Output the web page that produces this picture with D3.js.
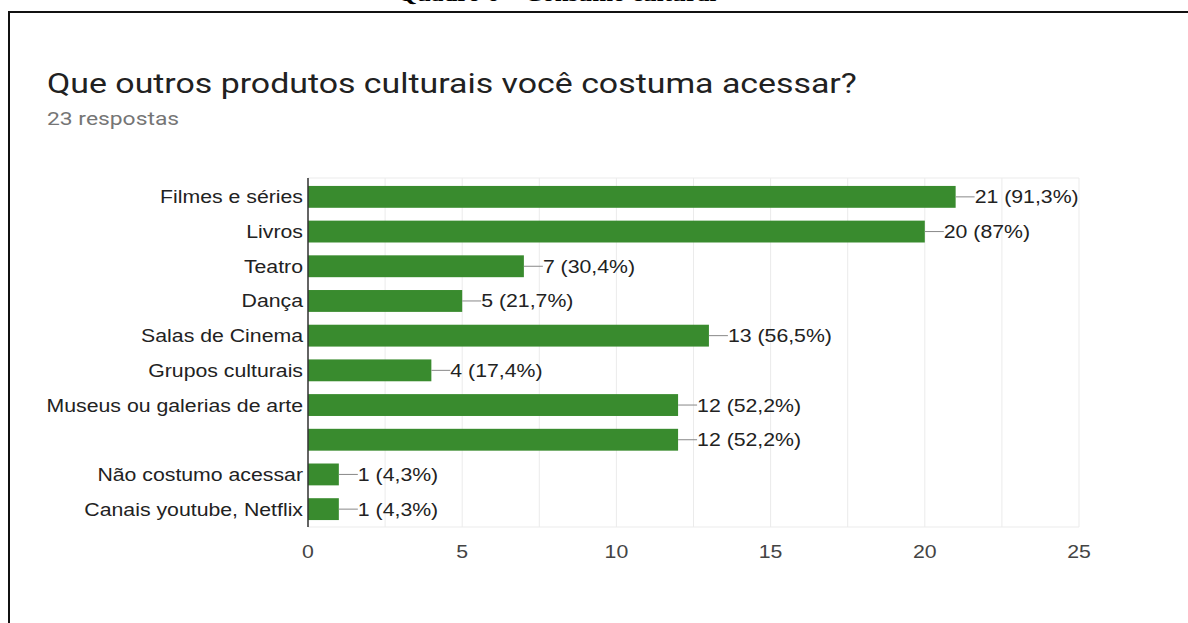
<!DOCTYPE html>
<html>
<head>
<meta charset="utf-8">
<script src="https://cdn.jsdelivr.net/npm/d3@7"></script>
<style>
  body { margin: 0; background: #fff; }
  svg { display: block; }
</style>
</head>
<body>
<svg id="chart"></svg>
<script>
const categories = ["Filmes e séries", "Livros", "Teatro", "Dança", "Salas de Cinema",
  "Grupos culturais", "Museus ou galerias de arte", "", "Não costumo acessar", "Canais youtube, Netflix"];
const counts = [21, 20, 7, 5, 13, 4, 12, 12, 1, 1];
const totalRespostas = 23;
const xTicks = [0, 5, 10, 15, 20, 25];
const gridValues = d3.range(0, 25.1, 2.5);

const W = 1188, H = 623;
let svg = d3.select("svg#chart")
  .attr("width", W)
  .attr("height", H)
  .style("background", "#fff");

// the screenshot is a bit stretched sideways, so text gets a horizontal scale
const place = (x, y, sx) => `translate(${x},${y}) scale(${sx},1)`;

// cut-off caption at the very top of the page
svg.append("text").attr("transform", place(557, 1, 1.25))
  .attr("text-anchor", "middle")
  .style("font-family", "'Liberation Serif', serif").style("font-weight", "bold")
  .style("font-size", "20px").attr("fill", "#000")
  .text("Quadro 6 – Consumo cultural");

// frame (right and bottom run off the page)
svg.append("rect").attr("x", 9).attr("y", 12).attr("width", 1200).attr("height", 700)
  .attr("fill", "none").attr("stroke", "#111").attr("stroke-width", 2);

svg.append("text").attr("transform", place(47, 93, 1.21))
  .style("font-family", "Roboto, sans-serif").style("font-size", "28px")
  .attr("fill", "#212121")
  .text("Que outros produtos culturais você costuma acessar?");

svg.append("text").attr("transform", place(47, 125, 1.27))
  .style("font-family", "Roboto, sans-serif").style("font-size", "18px")
  .attr("fill", "#757575")
  .text(totalRespostas + " respostas");

const x = d3.scaleLinear().domain([0, 25]).range([308, 1079]);
const y = d3.scaleBand().domain(d3.range(categories.length)).range([179, 527]).paddingInner(0.37).paddingOuter(0.2);

const font = "'Liberation Sans', Arial, sans-serif";
const fs = "18.5px", sx = 1.15;

// gridlines
svg.append("g").selectAll("line").data(gridValues).join("line")
  .attr("x1", d => x(d)).attr("x2", d => x(d))
  .attr("y1", 178).attr("y2", 527)
  .attr("stroke", "#ebebeb").attr("stroke-width", 1);
svg.append("line").attr("x1", x(0)).attr("x2", x(25)).attr("y1", 178).attr("y2", 178)
  .attr("stroke", "#ebebeb");
svg.append("line").attr("x1", x(0)).attr("x2", x(25)).attr("y1", 527).attr("y2", 527)
  .attr("stroke", "#ebebeb");

// x tick labels
svg.append("g").selectAll("text").data(xTicks).join("text")
  .attr("transform", d => place(x(d), 558, sx))
  .attr("text-anchor", "middle")
  .style("font-family", font).style("font-size", fs)
  .attr("fill", "#444")
  .text(d => d);

// bars
svg.append("g").selectAll("rect").data(counts).join("rect")
  .attr("x", x(0)).attr("y", (d, i) => y(i))
  .attr("width", d => x(d) - x(0)).attr("height", y.bandwidth())
  .attr("fill", "#398b2e");

// category labels
svg.append("g").selectAll("text").data(categories).join("text")
  .attr("transform", (d, i) => place(303, y(i) + y.bandwidth() / 2 + 6.5, sx))
  .attr("text-anchor", "end")
  .style("font-family", font).style("font-size", fs)
  .attr("fill", "#222")
  .text(d => d);

// leader lines + value labels
const pct = v => {
  const p = Math.round(v / totalRespostas * 1000) / 10;
  return String(p).replace(".", ",");
};
svg.append("g").selectAll("line").data(counts).join("line")
  .attr("x1", d => x(d)).attr("x2", d => x(d) + 19)
  .attr("y1", (d, i) => y(i) + y.bandwidth() / 2).attr("y2", (d, i) => y(i) + y.bandwidth() / 2)
  .attr("stroke", "#888").attr("stroke-width", 1);
svg.append("g").selectAll("text").data(counts).join("text")
  .attr("transform", (d, i) => place(x(d) + 19, y(i) + y.bandwidth() / 2 + 6.5, sx))
  .style("font-family", font).style("font-size", fs)
  .attr("fill", "#222")
  .text(d => `${d} (${pct(d)}%)`);

// vertical baseline
svg.append("line").attr("x1", x(0)).attr("x2", x(0)).attr("y1", 178).attr("y2", 527)
  .attr("stroke", "#333").attr("stroke-width", 1.5);
</script>
</body>
</html>
